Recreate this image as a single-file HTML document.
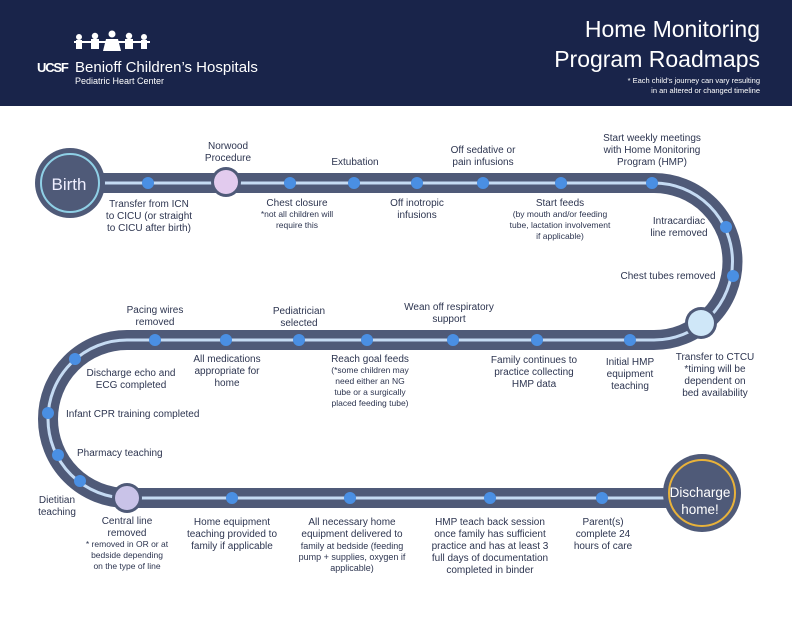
<!DOCTYPE html>
<html><head><meta charset="utf-8"><style>
body{margin:0;width:792px;height:612px;overflow:hidden;background:#fff;font-family:"Liberation Sans",sans-serif}
</style></head><body>
<svg width="792" height="612" viewBox="0 0 792 612" xmlns="http://www.w3.org/2000/svg" font-family="Liberation Sans, sans-serif">
<rect x="0" y="0" width="792" height="106" fill="#19244a"/>
<g fill="#fff">
<g transform="translate(74,34)">
<circle cx="5" cy="3" r="3"/><rect x="2" y="6" width="6" height="9"/>
<circle cx="21" cy="2" r="3.2"/><rect x="17" y="5" width="8" height="10"/>
<circle cx="38" cy="0" r="3.5"/><path d="M32 5 h12 l3 12 h-18z"/>
<circle cx="55" cy="2" r="3.2"/><rect x="51" y="5" width="8" height="10"/>
<circle cx="70" cy="3" r="3"/><rect x="67" y="6" width="6" height="9"/>
<rect x="0" y="7" width="76" height="2"/>
</g>
<text x="37" y="72" font-size="13" font-weight="bold" letter-spacing="-1.2">UCSF</text>
<text x="75" y="72" font-size="15">Benioff Children’s Hospitals</text>
<text x="75" y="84" font-size="9">Pediatric Heart Center</text>
<text x="760" y="37" font-size="23" text-anchor="end">Home Monitoring</text>
<text x="760" y="67" font-size="23" text-anchor="end">Program Roadmaps</text>
<text x="760" y="83" font-size="7.5" text-anchor="end">* Each child’s journey can vary resulting</text>
<text x="760" y="93" font-size="7.5" text-anchor="end">in an altered or changed timeline</text>
</g>
<path d="M70 183 H654 A78.5 78.5 0 0 1 654 340 H127 A79 79 0 0 0 127 498 H702" fill="none" stroke="#4f5a78" stroke-width="20"/>
<path d="M70 183 H654 A78.5 78.5 0 0 1 654 340 H127 A79 79 0 0 0 127 498 H702" fill="none" stroke="#c5dbf3" stroke-width="3"/>
<g fill="#4a8fe3">
<circle cx="148" cy="183" r="6"/><circle cx="290" cy="183" r="6"/><circle cx="354" cy="183" r="6"/>
<circle cx="417" cy="183" r="6"/><circle cx="483" cy="183" r="6"/><circle cx="561" cy="183" r="6"/>
<circle cx="652" cy="183" r="6"/><circle cx="726" cy="227" r="6"/><circle cx="733" cy="276" r="6"/>
<circle cx="630" cy="340" r="6"/><circle cx="537" cy="340" r="6"/><circle cx="453" cy="340" r="6"/>
<circle cx="367" cy="340" r="6"/><circle cx="299" cy="340" r="6"/><circle cx="226" cy="340" r="6"/>
<circle cx="155" cy="340" r="6"/><circle cx="75" cy="359" r="6"/><circle cx="48" cy="413" r="6"/>
<circle cx="58" cy="455" r="6"/><circle cx="80" cy="481" r="6"/>
<circle cx="232" cy="498" r="6"/><circle cx="350" cy="498" r="6"/><circle cx="490" cy="498" r="6"/><circle cx="602" cy="498" r="6"/>
</g>
<circle cx="70" cy="183" r="35" fill="#4f5a78"/>
<circle cx="70" cy="183" r="29" fill="#4f5a78" stroke="#8fd0e6" stroke-width="2"/>
<text x="69" y="190" font-size="17" fill="#eef" text-anchor="middle">Birth</text>
<circle cx="226" cy="182" r="15" fill="#4f5a78"/><circle cx="226" cy="182" r="12" fill="#e2cbee"/>
<circle cx="701" cy="323" r="16" fill="#4f5a78"/><circle cx="701" cy="323" r="13" fill="#cfe7f8"/>
<circle cx="127" cy="498" r="15" fill="#4f5a78"/><circle cx="127" cy="498" r="12" fill="#c9c3e8"/>
<circle cx="702" cy="493" r="39" fill="#4f5a78"/>
<circle cx="702" cy="493" r="33" fill="none" stroke="#e8b23a" stroke-width="2"/>
<text x="700" y="497" font-size="13.5" fill="#fff" text-anchor="middle">Discharge</text>
<text x="700" y="514" font-size="13.5" fill="#fff" text-anchor="middle">home!</text>
<g font-size="10" fill="#2d3550" text-anchor="middle">
<text x="228" y="149">Norwood</text><text x="228" y="161">Procedure</text>
<text x="355" y="165">Extubation</text>
<text x="483" y="153">Off sedative or</text><text x="483" y="165">pain infusions</text>
<text x="652" y="141">Start weekly meetings</text><text x="652" y="153">with Home Monitoring</text><text x="652" y="165">Program (HMP)</text>
<text x="149" y="207">Transfer from ICN</text><text x="149" y="219">to CICU (or straight</text><text x="149" y="231">to CICU after birth)</text>
<text x="297" y="206">Chest closure</text>
<text x="297" y="217" font-size="8.5">*not all children will</text><text x="297" y="228" font-size="8.5">require this</text>
<text x="417" y="206">Off inotropic</text><text x="417" y="218">infusions</text>
<text x="560" y="206">Start feeds</text>
<text x="560" y="217" font-size="8.5">(by mouth and/or feeding</text><text x="560" y="228" font-size="8.5">tube, lactation involvement</text><text x="560" y="239" font-size="8.5">if applicable)</text>
<text x="679" y="224">Intracardiac</text><text x="679" y="236">line removed</text>
<text x="668" y="279">Chest tubes removed</text>
<text x="155" y="313">Pacing wires</text><text x="155" y="325">removed</text>
<text x="299" y="314">Pediatrician</text><text x="299" y="326">selected</text>
<text x="449" y="310">Wean off respiratory</text><text x="449" y="322">support</text>
<text x="131" y="376">Discharge echo and</text><text x="131" y="388">ECG completed</text>
<text x="227" y="362">All medications</text><text x="227" y="374">appropriate for</text><text x="227" y="386">home</text>
<text x="370" y="362">Reach goal feeds</text>
<text x="370" y="373" font-size="8.5">(*some children may</text><text x="370" y="384" font-size="8.5">need either an NG</text><text x="370" y="395" font-size="8.5">tube or a surgically</text><text x="370" y="406" font-size="8.5">placed feeding tube)</text>
<text x="534" y="363">Family continues to</text><text x="534" y="375">practice collecting</text><text x="534" y="387">HMP data</text>
<text x="630" y="365">Initial HMP</text><text x="630" y="377">equipment</text><text x="630" y="389">teaching</text>
<text x="715" y="360">Transfer to CTCU</text><text x="715" y="372">*timing will be</text><text x="715" y="384">dependent on</text><text x="715" y="396">bed availability</text>
<text x="66" y="417" text-anchor="start">Infant CPR training completed</text>
<text x="77" y="456" text-anchor="start">Pharmacy teaching</text>
<text x="57" y="503">Dietitian</text><text x="57" y="515">teaching</text>
<text x="127" y="524">Central line</text><text x="127" y="536">removed</text>
<text x="127" y="547" font-size="8.5">* removed in OR or at</text><text x="127" y="558" font-size="8.5">bedside depending</text><text x="127" y="569" font-size="8.5">on the type of line</text>
<text x="232" y="525">Home equipment</text><text x="232" y="537">teaching provided to</text><text x="232" y="549">family if applicable</text>
<text x="352" y="525">All necessary home</text><text x="352" y="537">equipment delivered to</text>
<text x="352" y="549" font-size="9">family at bedside (feeding</text><text x="352" y="560" font-size="9">pump + supplies, oxygen if</text><text x="352" y="571" font-size="9">applicable)</text>
<text x="490" y="525">HMP teach back session</text><text x="490" y="537">once family has sufficient</text><text x="490" y="549">practice and has at least 3</text><text x="490" y="561">full days of documentation</text><text x="490" y="573">completed in binder</text>
<text x="603" y="525">Parent(s)</text><text x="603" y="537">complete 24</text><text x="603" y="549">hours of care</text>
</g>
</svg>
</body></html>
